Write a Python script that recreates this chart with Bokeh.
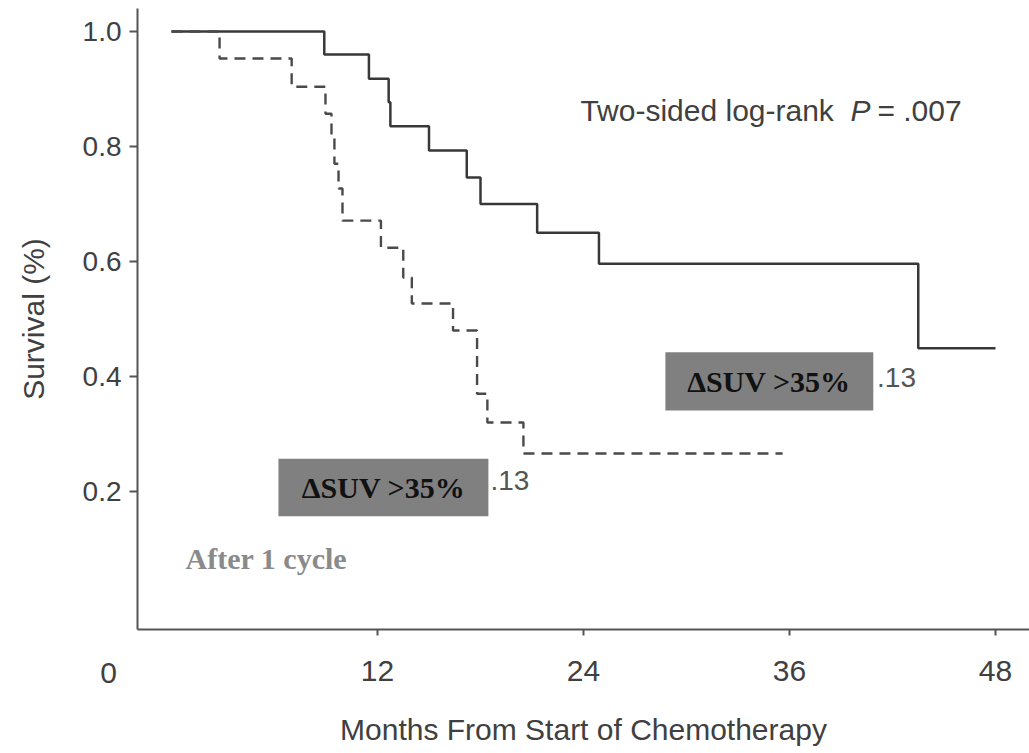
from bokeh.plotting import figure
from bokeh.models import FixedTicker, PrintfTickFormatter, BoxAnnotation, Label
from bokeh.embed import file_html
from bokeh.resources import INLINE

# ---- data (Kaplan-Meier steps) ----
months_responders = [0, 8.9, 11.5, 12.65, 12.75, 15.0, 17.2, 18.0, 21.3, 24.9, 43.5, 48.0]
surv_responders = [1.0, 0.960, 0.918, 0.877, 0.835, 0.793, 0.746, 0.700, 0.650, 0.596, 0.449, 0.449]

months_nonresp = [0, 2.8, 7.0, 8.97, 9.32, 9.49, 9.73, 9.96, 12.2, 13.5, 14.0, 16.4, 17.8, 18.4, 20.5, 35.6]
surv_nonresp = [1.0, 0.953, 0.904, 0.857, 0.814, 0.770, 0.727, 0.671, 0.624, 0.572, 0.527, 0.480, 0.370, 0.320, 0.266, 0.266]

x_ticks = [12, 24, 36, 48]
y_ticks = [0.2, 0.4, 0.6, 0.8, 1.0]
origin_label = "0"

group_label = "\u0394SUV >35%"
n_label = ".13"
pvalue_prefix = "Two-sided log-rank"
pvalue_symbol = "P"
pvalue_suffix = "= .007"
cycle_label = "After 1 cycle"

SANS = "Liberation Sans"
SERIF = "Liberation Serif"
TXT = "#404040"
AX = "#555555"

# axis frame position (data units) - the original axes sit slightly outside the data
AXIS_X = -1.98
AXIS_Y = -0.04

p = figure(width=1029, height=753, x_range=(-9.961, 49.98), y_range=(-0.2557, 1.0539),
           output_backend="svg", toolbar_location=None,
           min_border_left=0, min_border_right=0, min_border_top=0, min_border_bottom=0)
p.outline_line_color = None
p.xgrid.visible = False
p.ygrid.visible = False
p.background_fill_color = "white"

# axes
p.xaxis.ticker = FixedTicker(ticks=x_ticks)
p.yaxis.ticker = FixedTicker(ticks=y_ticks)
p.yaxis.formatter = PrintfTickFormatter(format="%.1f")
for ax in (p.xaxis[0], p.yaxis[0]):
    ax.axis_line_color = AX
    ax.axis_line_width = 2
    ax.major_tick_line_color = AX
    ax.major_tick_line_width = 2
    ax.major_tick_in = 0
    ax.minor_tick_line_color = None
    ax.major_label_text_font = SANS
    ax.major_label_text_color = TXT
    ax.axis_label_text_font = SANS
    ax.axis_label_text_font_size = "30px"
    ax.axis_label_text_font_style = "normal"
    ax.axis_label_text_color = TXT
p.xaxis.fixed_location = AXIS_Y
p.xaxis.bounds = (AXIS_X, 49.98)
p.yaxis.fixed_location = AXIS_X
p.yaxis.bounds = (AXIS_Y, 1.04)
p.xaxis.major_label_text_font_size = "30px"
p.yaxis.major_label_text_font_size = "28px"
p.xaxis.major_tick_out = 6
p.xaxis.major_label_standoff = 26
p.xaxis.axis_label = "Months From Start of Chemotherapy"
p.xaxis.axis_label_standoff = 28
p.yaxis.major_tick_out = 8
p.yaxis.major_label_standoff = 8
p.yaxis.axis_label = "Survival (%)"
p.yaxis.axis_label_standoff = 30

# survival curves
p.step(months_responders, surv_responders, mode="after", line_color="#383838", line_width=2.5)
p.step(months_nonresp, surv_nonresp, mode="after", line_color="#4a4a4a", line_width=2.4,
       line_dash="11 7")

# "0" tick label drawn left of the axis as in the reference
p.add_layout(Label(x=-3.67, y=-0.1165, text=origin_label,
                   text_font=SANS, text_font_size="30px",
                   text_color=TXT, text_align="center", text_baseline="middle"))

# group boxes
p.add_layout(BoxAnnotation(left=28.77, right=40.88, top=0.442, bottom=0.341,
                           fill_color="#808080", fill_alpha=1.0, line_color=None))
p.add_layout(BoxAnnotation(left=6.23, right=18.46, top=0.257, bottom=0.157,
                           fill_color="#808080", fill_alpha=1.0, line_color=None))
for cx, cy in [(34.8, 0.392), (12.35, 0.207)]:
    p.add_layout(Label(x=cx, y=cy, text=group_label, text_font=SERIF, text_font_size="30px",
                       text_font_style="bold", text_color="#111111",
                       text_align="center", text_baseline="middle"))
for lx, ly in [(41.1, 0.398), (18.58, 0.219)]:
    p.add_layout(Label(x=lx, y=ly, text=n_label, text_font=SANS, text_font_size="28px",
                       text_color="#555555", text_align="left", text_baseline="middle"))

# p-value text
p.add_layout(Label(x=23.82, y=0.863, text=pvalue_prefix, text_font=SANS, text_font_size="30px",
                   text_color=TXT, text_align="left", text_baseline="alphabetic"))
p.add_layout(Label(x=39.55, y=0.863, text=pvalue_symbol, text_font=SANS, text_font_size="30px",
                   text_font_style="italic", text_color=TXT, text_align="left",
                   text_baseline="alphabetic"))
p.add_layout(Label(x=41.12, y=0.863, text=pvalue_suffix, text_font=SANS, text_font_size="30px",
                   text_color=TXT, text_align="left", text_baseline="alphabetic"))

# after 1 cycle
p.add_layout(Label(x=0.82, y=0.0835, text=cycle_label, text_font=SERIF, text_font_size="30px",
                   text_font_style="bold", text_color="#8a8a8a", text_align="left",
                   text_baseline="alphabetic"))

open("out.html", "w").write(file_html(p, INLINE))
